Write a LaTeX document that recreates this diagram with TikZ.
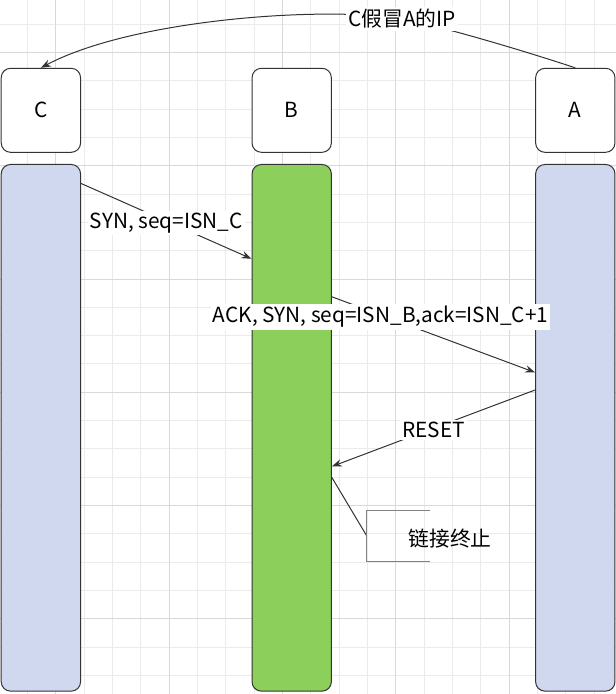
\documentclass[tikz,border=0pt]{standalone}
\usepackage{fontspec}
\setmainfont{Noto Sans CJK SC}
\usetikzlibrary{arrows.meta,calc}

\definecolor{gridminor}{HTML}{EBEBEB}
\definecolor{gridmajor}{HTML}{D9D9D9}
\definecolor{lane}{HTML}{D0D8F0}
\definecolor{hostgreen}{HTML}{8CCF5A}
\definecolor{edge}{HTML}{333333}

\tikzset{
  host/.style={draw=edge,line width=0.75pt,rounded corners=7pt,fill=white,
    minimum width=59.5pt,minimum height=63pt,inner sep=0pt},
  bar/.style={draw=edge,line width=0.75pt,rounded corners=7pt,
    minimum width=59.5pt,minimum height=395pt,inner sep=0pt},
  msg/.style={draw=edge,line width=0.75pt,-{Stealth[length=7.5pt,width=5.5pt]}},
  tag/.style={fill=white,inner sep=1.5pt,yshift=-1.5pt},
}

\begin{document}
\begin{tikzpicture}[x=0.75pt,y=-0.75pt,font=\fontsize{15.6}{18}\selectfont]
\useasboundingbox (0,0) rectangle (616,694);

% ---------------- grid ----------------
\foreach \i in {0,...,21} \draw[gridminor,line width=0.75pt] ({-0.8+28.33*\i},0) -- ({-0.8+28.33*\i},694);
\foreach \i in {0,...,24} \draw[gridminor,line width=0.75pt] (0,{-4.3+28.33*\i}) -- (616,{-4.3+28.33*\i});
\foreach \i in {2,6,10,14,18} \draw[gridmajor,line width=0.75pt] ({-0.8+28.33*\i},0) -- ({-0.8+28.33*\i},694);
\foreach \i in {2,6,10,14,18,22} \draw[gridmajor,line width=0.75pt] (0,{-4.3+28.33*\i}) -- (616,{-4.3+28.33*\i});

% ---------------- hosts ----------------
\node[host] (C) at (40.9,110.3) {C};
\node[host] (B) at (291.7,110.3) {B};
\node[host] (A) at (575.3,110.3) {A};

\node[bar,fill=lane] (Cbar) at (40.9,427.8) {};
\node[bar,fill=hostgreen] (Bbar) at (291.7,427.8) {};
\node[bar,fill=lane] (Abar) at (575.3,427.8) {};

% ---------------- spoofing ----------------
\coordinate (spoof) at (402,19);
\draw[msg] (A.north) .. controls (515,48) and (440,26) .. (spoof)
  .. controls (330,6) and (135,18) .. (C.north);
\node[tag,yshift=1.5pt] (spooftag) at (spoof) {C假冒A的IP};

% ---------------- messages ----------------
\draw[msg] ($(Cbar.north east)+(0,19.5)$) -- ($(Bbar.north west)+(0,94.8)$)
  node[tag,midway] {SYN, seq=ISN\_C};
\draw[msg] ($(Bbar.north east)+(0,132.8)$) -- ($(Abar.north west)+(0,208.5)$)
  node[tag,pos=0.24] {ACK, SYN, seq=ISN\_B,ack=ISN\_C+1};
\draw[msg] ($(Abar.north west)+(0,226)$) -- ($(Bbar.north east)+(0,302.5)$)
  node[tag,midway] {RESET};

% ---------------- termination ----------------
\coordinate (brk) at (366.7,535.8);
\draw[edge,line width=0.75pt] ($(Bbar.north east)+(0,313.5)$) -- (brk);
\draw[gray,line width=0.75pt] (430,510) -- (366.7,510) -- (366.7,561.7) -- (430,561.7);
\node (term) at (450,539) {链接终止};

\end{tikzpicture}
\end{document}
